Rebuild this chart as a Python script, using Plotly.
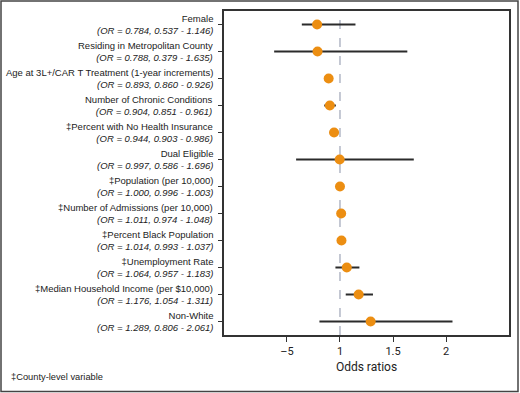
import plotly.graph_objects as go

labels = [
    "Female",
    "Residing in Metropolitan County",
    "Age at 3L+/CAR T Treatment (1-year increments)",
    "Number of Chronic Conditions",
    "‡Percent with No Health Insurance",
    "Dual Eligible",
    "‡Population (per 10,000)",
    "‡Number of Admissions (per 10,000)",
    "‡Percent Black Population",
    "‡Unemployment Rate",
    "‡Median Household Income (per $10,000)",
    "Non-White",
]
odds = [0.784, 0.788, 0.893, 0.904, 0.944, 0.997, 1.000, 1.011, 1.014, 1.064, 1.176, 1.289]
lower = [0.537, 0.379, 0.860, 0.851, 0.903, 0.586, 0.996, 0.974, 0.993, 0.957, 1.054, 0.806]
upper = [1.146, 1.635, 0.926, 0.961, 0.986, 1.696, 1.003, 1.048, 1.037, 1.183, 1.311, 2.061]
# lower CI end as drawn in the picture (Female drawn shorter than stated)
lower_drawn = [0.64, 0.379, 0.860, 0.851, 0.903, 0.586, 0.996, 0.974, 0.993, 0.957, 1.054, 0.806]

x_tickvals = [0.5, 1, 1.5, 2]
x_ticktext = ["–5", "1", "1.5", "2"]

positions = list(range(1, len(labels) + 1))

L, R, T, B = 224, 11, 11, 58
W, H = 520, 393
pw, ph = W - L - R, H - T - B

LABEL_FONT = "Liberation Sans, Arial, Helvetica"
COND_FONT = "Roboto, Liberation Sans, Arial"

fig = go.Figure()
for i, p in enumerate(positions):
    fig.add_trace(go.Scatter(
        x=[lower_drawn[i], upper[i]], y=[p, p], mode="lines",
        line=dict(color="#2b2b2b", width=2), showlegend=False, hoverinfo="skip"))
fig.add_trace(go.Scatter(
    x=odds, y=positions, mode="markers",
    marker=dict(color="#EC8E12", size=10, line=dict(width=0)),
    showlegend=False))

for lab, o, l, u, p in zip(labels, odds, lower, upper, positions):
    fig.add_annotation(
        text=f"{lab}<br><i>(OR = {o:.3f}, {l:.3f} - {u:.3f})</i>",
        xref="paper", yref="y", x=-9 / pw, y=p,
        xanchor="right", yanchor="middle", align="right", showarrow=False,
        font=dict(size=9.5, color="#222222", family=LABEL_FONT))

fig.add_shape(type="line", xref="x", yref="paper", x0=1, x1=1, y0=0, y1=1,
              line=dict(color="#8a93a8", width=1, dash="dash"), layer="below")
# outer frame
fig.add_shape(type="rect", xref="paper", yref="paper",
              x0=(1 - L) / pw, x1=(W - 2 - L) / pw,
              y0=-(B - 1.5) / ph, y1=1 + (T - 1) / ph,
              line=dict(color="#444444", width=1.5))

fig.add_annotation(text="‡County-level variable", xref="paper", yref="paper",
                   x=-(L - 9) / pw, y=-(377 - T - ph) / ph,
                   xanchor="left", yanchor="middle", showarrow=False,
                   font=dict(size=9.3, color="#222222", family=LABEL_FONT))

fig.update_layout(
    width=W, height=H,
    margin=dict(l=L, r=R, t=T, b=B, autoexpand=False),
    paper_bgcolor="white", plot_bgcolor="white",
    font=dict(family=LABEL_FONT, color="#222222"),
    xaxis=dict(
        range=[-0.094, 2.594], tickvals=x_tickvals, ticktext=x_ticktext,
        showgrid=False, zeroline=False, showline=True, mirror=True,
        linecolor="#333333", linewidth=2, ticks="outside", ticklen=5,
        tickcolor="#333333",
        tickfont=dict(size=11, family=COND_FONT),
        title=dict(text="Odds ratios", standoff=5,
                   font=dict(size=12, family=COND_FONT)),
    ),
    yaxis=dict(
        range=[12.5, 0.5], tickvals=positions, showticklabels=False,
        showgrid=False, zeroline=False, showline=True, mirror=True,
        linecolor="#333333", linewidth=2, ticks="outside", ticklen=4,
        tickcolor="#333333",
    ),
)

fig.write_html("out.html", config={"displayModeBar": False},
               post_script="document.body.style.margin='0';document.body.style.padding='0';")
